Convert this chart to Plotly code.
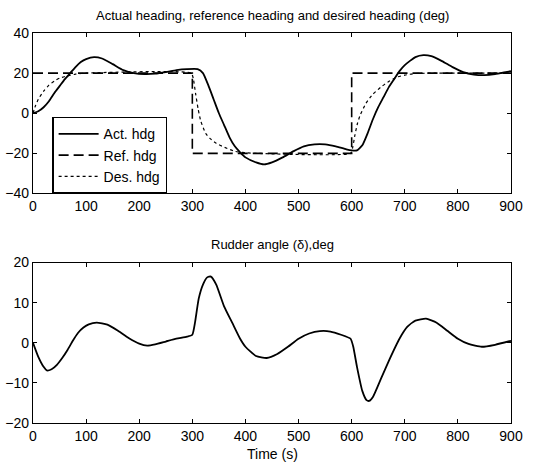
import plotly.graph_objects as go
from plotly.subplots import make_subplots

# ---- data ----
t_act = [0, 10, 20, 30, 40, 50, 60, 70, 80, 90, 100, 115, 130, 150, 170, 190, 210, 230, 250, 270, 290, 310,
         320, 330, 340, 350, 360, 370, 380, 390, 400, 420, 435, 450, 470, 490, 510, 530, 550, 570, 590, 600,
         610, 620, 630, 640, 650, 660, 670, 680, 690, 700, 720, 735, 750, 770, 790, 810, 830, 850, 870, 890, 900]
act_hdg = [0, 1, 3, 6, 10, 13.5, 17, 20, 23, 25.5, 27, 28, 27.3, 24.5, 21.5, 20, 19.5, 19.7, 20.5, 21.5, 22, 22,
           20, 14, 7, 0, -6, -12, -16.5, -19.5, -22, -24.5, -25.5, -24.5, -22, -19, -16.5, -15.5, -15.5, -16.5, -18, -18.5,
           -18.5, -16, -10, -3, 3, 8, 13, 17, 21, 24, 28, 29, 28.5, 26, 23, 20.5, 19.3, 19, 19.5, 20.5, 21]

t_ref = [0, 300, 300, 600, 600, 900]
ref_hdg = [20, 20, -20, -20, 20, 20]

t_des = [0, 5, 10, 20, 30, 40, 50, 60, 80, 100, 298, 302, 306, 311, 316, 325, 333, 345, 361, 380, 400, 420, 598,
         602, 606, 611, 616, 627, 640, 655, 668, 685, 700, 720, 900]
des_hdg = [0, 4, 7, 11, 14, 16, 17.5, 18.3, 19.5, 20, 20, 17, 10, 2, -4, -10, -12.5, -15, -17, -19, -19.7, -20, -20,
           -17, -11, -5, -1, 5, 9.5, 13, 15.5, 18, 19, 19.8, 20]

t_rud = [0, 10, 20, 26, 35, 45, 55, 65, 75, 85, 95, 105, 120, 140, 160, 180, 200, 215, 230, 250, 270, 290, 300,
         305, 312, 320, 328, 335, 345, 360, 375, 390, 400, 420, 440, 460, 480, 500, 520, 540, 560, 580, 598,
         603, 610, 620, 628, 633, 640, 655, 670, 690, 705, 720, 740, 760, 780, 800, 820, 845, 870, 900]
rudder = [0, -3.5, -6, -6.9, -6.6, -5.5, -3.8, -1.8, 0.5, 2.5, 3.8, 4.6, 5, 4.5, 3, 1.2, -0.2, -0.7, -0.4, 0.3, 1, 1.5, 2,
          5, 11, 14.5, 16.3, 16.5, 14.5, 9, 5, 1, -1, -3.3, -3.8, -2.8, -1, 1, 2.3, 2.9, 2.8, 2, 1,
          -1, -6, -12, -14.3, -14.5, -13.5, -9, -4.5, 1, 4, 5.5, 6, 5, 3, 1, -0.3, -1, -0.5, 0.5]

x_ticks = [0, 100, 200, 300, 400, 500, 600, 700, 800, 900]

fig = make_subplots(rows=2, cols=1, vertical_spacing=0.177)

fig.add_trace(go.Scatter(x=t_act, y=act_hdg, mode="lines", name="Act. hdg",
                         line=dict(color="black", width=1.8, shape="spline", smoothing=0.5)), row=1, col=1)
fig.add_trace(go.Scatter(x=t_ref, y=ref_hdg, mode="lines", name="Ref. hdg",
                         line=dict(color="black", width=1.6, dash="10px,5px")), row=1, col=1)
fig.add_trace(go.Scatter(x=t_des, y=des_hdg, mode="lines", name="Des. hdg",
                         line=dict(color="black", width=1.2, dash="dot", shape="spline", smoothing=0.5)), row=1, col=1)
fig.add_trace(go.Scatter(x=t_rud, y=rudder, mode="lines", showlegend=False,
                         line=dict(color="black", width=1.8, shape="spline", smoothing=0.5)), row=2, col=1)

font = dict(family="Liberation Sans, Arial, sans-serif", color="black")
axis_common = dict(showgrid=False, zeroline=False, showline=True, linecolor="black", linewidth=1.2, mirror="ticks",
                   ticks="inside", ticklen=4, tickcolor="black", tickfont=dict(size=14, **font), automargin=False)

fig.update_xaxes(range=[0, 900], tickvals=x_ticks, **axis_common)
fig.update_yaxes(**axis_common)
fig.update_yaxes(range=[-40, 40], tickvals=[-40, -20, 0, 20, 40], row=1, col=1)
fig.update_yaxes(range=[-20, 20], tickvals=[-20, -10, 0, 10, 20], row=2, col=1)

fig.update_layout(
    width=541, height=466,
    margin=dict(l=33, r=30, t=33, b=43),
    paper_bgcolor="white", plot_bgcolor="white",
    font=font,
    legend=dict(x=0.04, y=0.785, xanchor="left", yanchor="top", bgcolor="white",
                bordercolor="black", borderwidth=1.5, font=dict(size=14, **font),
                tracegroupgap=0, itemwidth=40),
    annotations=[
        dict(text="Actual heading, reference heading and desired heading (deg)", x=0.5, y=1.0, xref="paper",
             yref="paper", yanchor="bottom", yshift=8, showarrow=False, font=dict(size=13, **font)),
        dict(text="Rudder angle (δ),deg", x=0.5, y=0.413, xref="paper",
             yref="paper", yanchor="bottom", yshift=8, showarrow=False, font=dict(size=13, **font)),
        dict(text="Time (s)", x=0.5, y=0, xref="paper", yref="paper", yanchor="top", yshift=-21,
             showarrow=False, font=dict(size=14, **font)),
    ],
)

fig.write_html("out.html")
